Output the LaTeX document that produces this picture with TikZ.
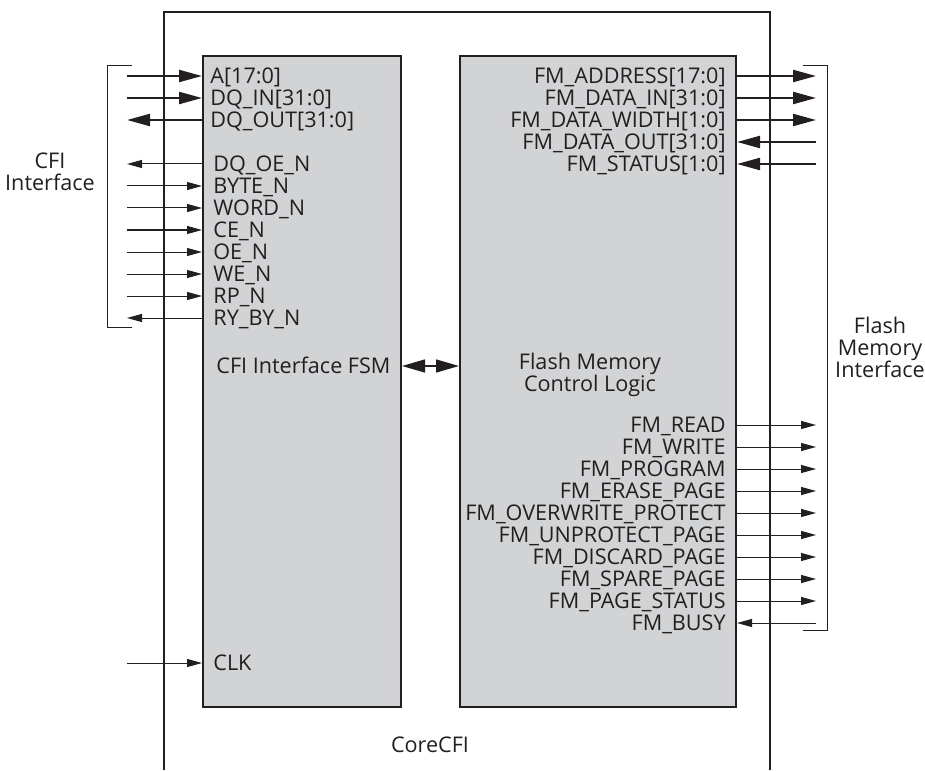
\documentclass[tikz,border=0pt]{standalone}
\usepackage{fontspec}
\setmainfont{Open Sans}
\usepackage{xcolor}
\usepackage{tikz}
\usetikzlibrary{arrows.meta, positioning}

\definecolor{boxgray}{RGB}{209,211,212}
\definecolor{inkgray}{RGB}{35,31,32}

\begin{document}
\begin{tikzpicture}[x=0.5pt, y=-0.5pt,
        font=\fontsize{10.8}{11}\selectfont,
        every node/.style={text=inkgray},
        block/.style={draw=inkgray, line width=1pt, fill=boxgray, rectangle, anchor=north west},
        siglbl/.style={inner sep=0pt, text height=7.7pt, text depth=0pt},
        busarrow/.style={draw=inkgray, line width=1.1pt, -{Triangle[length=11.5pt, width=6pt]}},
        wirearrow/.style={draw=inkgray, line width=0.5pt, -{Triangle[length=7.5pt, width=4pt]}},
        bracket/.style={draw=inkgray, line width=0.5pt}]
        \useasboundingbox (0,0) rectangle (925,770);

        % CoreCFI frame
        \draw[inkgray, line width=1pt] (164,770) -- (164,12) -- (770,12) -- (770,770);
        \node (core) at (430,745) {CoreCFI};

        % Blocks
        \node[block, minimum width=99pt, minimum height=325.5pt] (fsm) at (202,55) {};
        \node[block, minimum width=138pt, minimum height=325.5pt] (ctrl) at (459,55) {};
        \node[siglbl, anchor=west] (fsmlbl) at (216,366) {CFI Interface FSM};
        \node[align=center, inner sep=0pt] (ctrllbl) at (590,375) {Flash Memory\\Control Logic};
        \draw[draw=inkgray, line width=0.7pt, {Triangle[length=11.5pt, width=6.5pt]}-{Triangle[length=11.5pt, width=6.5pt]}]
            (fsmlbl -| fsm.east) -- (fsmlbl -| ctrl.west);

        % CFI side signals
        \node[siglbl, anchor=west] (a) at (210,76) {A[17:0]};
        \node[siglbl, anchor=west] (dqin) at (210,98) {DQ\_IN[31:0]};
        \node[siglbl, anchor=west] (dqout) at (210,120) {DQ\_OUT[31:0]};
        \node[siglbl, anchor=west] (dqoe) at (213,164) {DQ\_OE\_N};
        \node[siglbl, anchor=west] (byte) at (213,186) {BYTE\_N};
        \node[siglbl, anchor=west] (word) at (213,208) {WORD\_N};
        \node[siglbl, anchor=west] (ce) at (213,230) {CE\_N};
        \node[siglbl, anchor=west] (oe) at (213,252) {OE\_N};
        \node[siglbl, anchor=west] (we) at (213,274) {WE\_N};
        \node[siglbl, anchor=west] (rp) at (213,296) {RP\_N};
        \node[siglbl, anchor=west] (ryby) at (213,318) {RY\_BY\_N};
        \node[siglbl, anchor=west] (clk) at (213,663) {CLK};
        \coordinate (cfiedge) at (127,0);

        \draw[busarrow] (a -| cfiedge) -- (a -| fsm.west);
        \draw[busarrow] (dqin -| cfiedge) -- (dqin -| fsm.west);
        \draw[busarrow] (dqout -| fsm.west) -- (dqout -| cfiedge);
        \draw[wirearrow] (dqoe -| fsm.west) -- (dqoe -| cfiedge);
        \draw[wirearrow] (byte -| cfiedge) -- (byte -| fsm.west);
        \draw[wirearrow] (word -| cfiedge) -- (word -| fsm.west);
        \draw[wirearrow] (ce -| cfiedge) -- (ce -| fsm.west);
        \draw[wirearrow] (oe -| cfiedge) -- (oe -| fsm.west);
        \draw[wirearrow] (we -| cfiedge) -- (we -| fsm.west);
        \draw[wirearrow] (rp -| cfiedge) -- (rp -| fsm.west);
        \draw[wirearrow] (ryby -| fsm.west) -- (ryby -| cfiedge);
        \draw[wirearrow] (clk -| cfiedge) -- (clk -| fsm.west);

        % CFI bracket
        \draw[bracket] (132,66) -- (107,66) -- (107,327) -- (132,327);
        \node[align=center, inner sep=0pt] (cfiif) at (50,172) {CFI\\Interface};

        % Flash side signals
        \node[siglbl, anchor=east] (fmaddr) at (726,76) {FM\_ADDRESS[17:0]};
        \node[siglbl, anchor=east] (fmdin) at (726,98) {FM\_DATA\_IN[31:0]};
        \node[siglbl, anchor=east] (fmwidth) at (726,120) {FM\_DATA\_WIDTH[1:0]};
        \node[siglbl, anchor=east] (fmdout) at (726,142) {FM\_DATA\_OUT[31:0]};
        \node[siglbl, anchor=east] (fmstatus) at (726,164) {FM\_STATUS[1:0]};
        \node[siglbl, anchor=east] (fmread) at (726,425) {FM\_READ};
        \node[siglbl, anchor=east] (fmwrite) at (726,447) {FM\_WRITE};
        \node[siglbl, anchor=east] (fmprog) at (726,469) {FM\_PROGRAM};
        \node[siglbl, anchor=east] (fmerase) at (726,491) {FM\_ERASE\_PAGE};
        \node[siglbl, anchor=east] (fmovw) at (726,513) {FM\_OVERWRITE\_PROTECT};
        \node[siglbl, anchor=east] (fmunprot) at (726,535) {FM\_UNPROTECT\_PAGE};
        \node[siglbl, anchor=east] (fmdiscard) at (726,557) {FM\_DISCARD\_PAGE};
        \node[siglbl, anchor=east] (fmspare) at (726,579) {FM\_SPARE\_PAGE};
        \node[siglbl, anchor=east] (fmpgstat) at (726,601) {FM\_PAGE\_STATUS};
        \node[siglbl, anchor=east] (fmbusy) at (726,623) {FM\_BUSY};
        \coordinate (flashedge) at (816,0);

        \draw[busarrow] (fmaddr -| ctrl.east) -- (fmaddr -| flashedge);
        \draw[busarrow] (fmdin -| ctrl.east) -- (fmdin -| flashedge);
        \draw[busarrow] (fmwidth -| ctrl.east) -- (fmwidth -| flashedge);
        \draw[busarrow] (fmdout -| flashedge) -- (fmdout -| ctrl.east);
        \draw[busarrow] (fmstatus -| flashedge) -- (fmstatus -| ctrl.east);
        \draw[wirearrow] (fmread -| ctrl.east) -- (fmread -| flashedge);
        \draw[wirearrow] (fmwrite -| ctrl.east) -- (fmwrite -| flashedge);
        \draw[wirearrow] (fmprog -| ctrl.east) -- (fmprog -| flashedge);
        \draw[wirearrow] (fmerase -| ctrl.east) -- (fmerase -| flashedge);
        \draw[wirearrow] (fmovw -| ctrl.east) -- (fmovw -| flashedge);
        \draw[wirearrow] (fmunprot -| ctrl.east) -- (fmunprot -| flashedge);
        \draw[wirearrow] (fmdiscard -| ctrl.east) -- (fmdiscard -| flashedge);
        \draw[wirearrow] (fmspare -| ctrl.east) -- (fmspare -| flashedge);
        \draw[wirearrow] (fmpgstat -| ctrl.east) -- (fmpgstat -| flashedge);
        \draw[wirearrow] (fmbusy -| flashedge) -- (fmbusy -| ctrl.east);

        % Flash bracket
        \draw[bracket] (803,66) -- (827,66) -- (827,630) -- (803,630);
        \node[align=center, inner sep=0pt] (flashif) at (880,347) {Flash\\Memory\\Interface};
    \end{tikzpicture}
\end{document}
